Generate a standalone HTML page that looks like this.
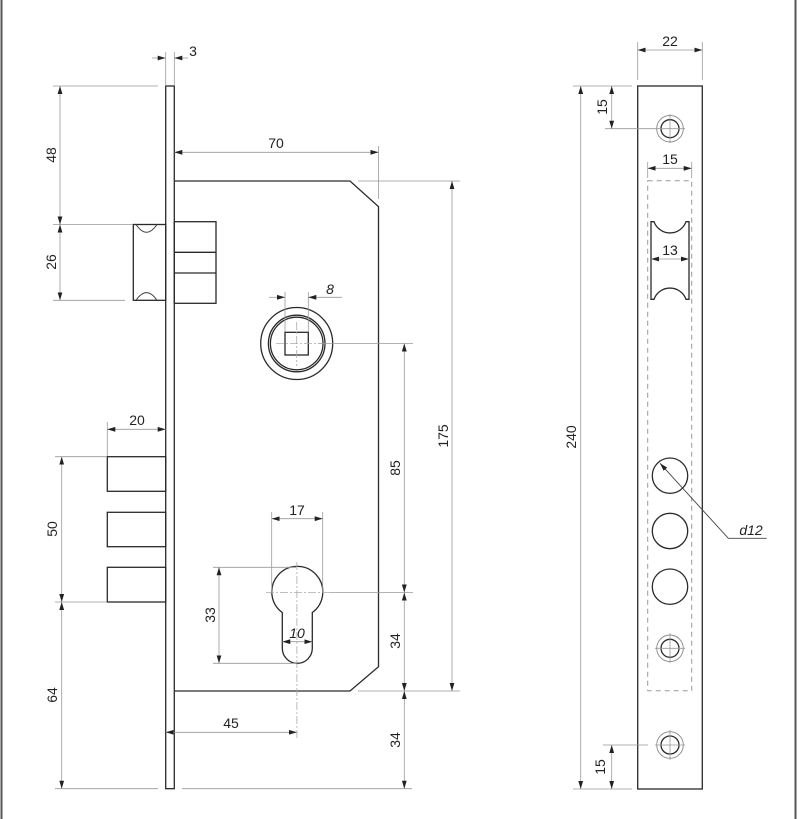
<!DOCTYPE html>
<html><head><meta charset="utf-8"><style>
html,body{margin:0;padding:0;background:#fff}
svg{display:block}
text{font-family:"Liberation Sans",sans-serif;font-size:14px;fill:#222}
.o{stroke:#2a2a2a;stroke-width:1.3;fill:none}
.d{stroke:#999;stroke-width:0.8;fill:none}
.c{stroke:#aaa;stroke-width:0.8;fill:none;stroke-dasharray:8 2 2 2}
</style></head><body>
<svg width="800" height="819" viewBox="0 0 800 819" xmlns="http://www.w3.org/2000/svg">
<defs>
<marker id="a" viewBox="0 0 10 6" refX="10" refY="3" markerWidth="8" markerHeight="5" orient="auto-start-reverse" markerUnits="userSpaceOnUse"><path d="M0,0L10,3L0,6z" fill="#222"/></marker>
</defs>
<line x1="1.5" y1="0" x2="1.5" y2="819" stroke="#555" stroke-width="2"/>
<line x1="795.5" y1="0" x2="795.5" y2="819" stroke="#555" stroke-width="2"/>

<rect x="165.7" y="86" width="8.6" height="702.7" class="o"/>
<path d="M174.3,181 H350 L378.5,206.7 V666.7 L350,691 H174.3" class="o"/>
<rect x="133.3" y="224.5" width="32.4" height="75.8" class="o"/>
<path d="M136,224.5 Q146.5,240 157,224.5 M136,300.3 Q146.5,285 157,300.3" stroke="#444" stroke-width="1" fill="none"/>
<rect x="174.3" y="221.7" width="41.7" height="81.6" class="o"/>
<line x1="174.3" y1="252.3" x2="216" y2="252.3" class="o"/>
<line x1="174.3" y1="273" x2="216" y2="273" class="o"/>
<rect x="107.3" y="456.7" width="58.4" height="34.6" class="o"/>
<rect x="107.3" y="512.3" width="58.4" height="34.4" class="o"/>
<rect x="107.3" y="567.3" width="58.4" height="34.7" class="o"/>
<circle cx="296.7" cy="343.5" r="36" class="o"/>
<circle cx="296.7" cy="343.5" r="28.3" class="o"/>
<circle cx="296.7" cy="343.5" r="26.3" class="o"/>
<rect x="285" y="332.3" width="23.3" height="22.7" class="o"/>
<line x1="296.7" y1="322" x2="296.7" y2="366" class="c"/>
<line x1="276" y1="343.5" x2="318" y2="343.5" class="c"/>
<path d="M282.3,612.5 A25.5,25.5 0 1 1 312.3,612.5 V648.3 A15,15 0 0 1 282.3,648.3 Z" class="o"/>
<line x1="296.9" y1="562" x2="296.9" y2="740" class="c"/>
<line x1="266" y1="592.5" x2="330" y2="592.5" class="c"/>

<g class="d">
<line x1="165.7" y1="52" x2="165.7" y2="86"/><line x1="174.3" y1="52" x2="174.3" y2="86"/>
<line x1="152" y1="58" x2="165.7" y2="58" marker-end="url(#a)"/>
<line x1="188" y1="58" x2="174.3" y2="58" marker-end="url(#a)"/>
<line x1="53" y1="86" x2="158" y2="86"/>
<line x1="53" y1="224.5" x2="133" y2="224.5"/>
<line x1="53" y1="300.3" x2="125" y2="300.3"/>
<line x1="60" y1="86" x2="60" y2="224.5" marker-start="url(#a)" marker-end="url(#a)"/>
<line x1="60" y1="224.5" x2="60" y2="300.3" marker-start="url(#a)" marker-end="url(#a)"/>
<line x1="378.5" y1="146" x2="378.5" y2="199"/>
<line x1="174.3" y1="152.3" x2="378.5" y2="152.3" marker-start="url(#a)" marker-end="url(#a)"/>
<line x1="358" y1="181" x2="460" y2="181"/>
<line x1="452" y1="181" x2="452" y2="691" marker-start="url(#a)" marker-end="url(#a)"/>
<line x1="285" y1="292" x2="285" y2="332"/><line x1="308.3" y1="292" x2="308.3" y2="332"/>
<line x1="269" y1="297.3" x2="285" y2="297.3" marker-end="url(#a)"/>
<line x1="342" y1="297.3" x2="308.3" y2="297.3" marker-end="url(#a)"/>
<line x1="318" y1="343.5" x2="413" y2="343.5"/>
<line x1="404.3" y1="343.5" x2="404.3" y2="592.5" marker-start="url(#a)" marker-end="url(#a)"/>
<line x1="330" y1="592.5" x2="413" y2="592.5"/>
<line x1="404.3" y1="592.5" x2="404.3" y2="691" marker-start="url(#a)" marker-end="url(#a)"/>
<line x1="358" y1="691" x2="460" y2="691"/>
<line x1="404.3" y1="691" x2="404.3" y2="788.7" marker-start="url(#a)" marker-end="url(#a)"/>
<line x1="182" y1="788.7" x2="412" y2="788.7"/>
<line x1="55" y1="788.7" x2="158" y2="788.7"/>
<line x1="107.3" y1="422" x2="107.3" y2="456"/>
<line x1="107.3" y1="429.3" x2="165.7" y2="429.3" marker-start="url(#a)" marker-end="url(#a)"/>
<line x1="55" y1="456.7" x2="107" y2="456.7"/>
<line x1="55" y1="602" x2="107" y2="602"/>
<line x1="61.7" y1="456.7" x2="61.7" y2="602" marker-start="url(#a)" marker-end="url(#a)"/>
<line x1="61.7" y1="602" x2="61.7" y2="788.7" marker-start="url(#a)" marker-end="url(#a)"/>
<line x1="271.7" y1="512" x2="271.7" y2="592"/><line x1="322.7" y1="512" x2="322.7" y2="592"/>
<line x1="271.7" y1="518.7" x2="322.7" y2="518.7" marker-start="url(#a)" marker-end="url(#a)"/>
<line x1="213" y1="567.3" x2="296" y2="567.3"/>
<line x1="213" y1="663.3" x2="296" y2="663.3"/>
<line x1="219" y1="567.3" x2="219" y2="663.3" marker-start="url(#a)" marker-end="url(#a)"/>
<line x1="282.3" y1="641.7" x2="312.3" y2="641.7" marker-start="url(#a)" marker-end="url(#a)"/>
<line x1="165.7" y1="732.3" x2="296.9" y2="732.3" marker-start="url(#a)" marker-end="url(#a)"/>
</g>
<text x="193" y="56" text-anchor="middle">3</text>
<text x="276" y="148" text-anchor="middle">70</text>
<text x="330" y="294" text-anchor="middle" font-style="italic">8</text>
<text x="137" y="425" text-anchor="middle">20</text>
<text x="297" y="515" text-anchor="middle">17</text>
<text x="297" y="638" text-anchor="middle" font-style="italic" font-size="12">10</text>
<text x="231" y="728" text-anchor="middle">45</text>
<text transform="translate(56,155) rotate(-90)" text-anchor="middle">48</text>
<text transform="translate(56,262) rotate(-90)" text-anchor="middle">26</text>
<text transform="translate(57,529) rotate(-90)" text-anchor="middle">50</text>
<text transform="translate(57,695) rotate(-90)" text-anchor="middle">64</text>
<text transform="translate(215,615) rotate(-90)" text-anchor="middle">33</text>
<text transform="translate(400,468) rotate(-90)" text-anchor="middle">85</text>
<text transform="translate(400,641) rotate(-90)" text-anchor="middle">34</text>
<text transform="translate(400,740) rotate(-90)" text-anchor="middle">34</text>
<text transform="translate(448,436) rotate(-90)" text-anchor="middle">175</text>

<rect x="637.7" y="86" width="64.6" height="703" class="o"/>
<rect x="647.7" y="180.7" width="44" height="510" fill="none" stroke="#999" stroke-width="1" stroke-dasharray="5 4"/>
<path d="M651,221.7 H654 A17,17 0 0 0 686,221.7 H689 V299.3 H686 A17,17 0 0 0 654,299.3 H651 Z" class="o"/>
<g>
<circle cx="670" cy="128.7" r="13.3" stroke="#888" stroke-width="0.9" fill="none"/>
<circle cx="670" cy="128.7" r="9" class="o"/>
<circle cx="670" cy="648.3" r="13.3" stroke="#888" stroke-width="0.9" fill="none"/>
<circle cx="670" cy="648.3" r="9" class="o"/>
<circle cx="670" cy="745" r="13.3" stroke="#888" stroke-width="0.9" fill="none"/>
<circle cx="670" cy="745" r="9" class="o"/>
<circle cx="670" cy="475.7" r="17.7" class="o"/>
<circle cx="670" cy="531" r="17.7" class="o"/>
<circle cx="670" cy="586.7" r="17.7" class="o"/>
</g>
<g class="d">
<line x1="670" y1="114" x2="670" y2="143"/><line x1="655" y1="128.7" x2="685" y2="128.7"/>
<line x1="670" y1="633" x2="670" y2="663"/><line x1="655" y1="648.3" x2="685" y2="648.3"/>
<line x1="670" y1="730" x2="670" y2="760"/><line x1="655" y1="745" x2="685" y2="745"/>
<line x1="637.7" y1="42" x2="637.7" y2="80"/><line x1="702.3" y1="42" x2="702.3" y2="80"/>
<line x1="637.7" y1="50" x2="702.3" y2="50" marker-start="url(#a)" marker-end="url(#a)"/>
<line x1="573" y1="86" x2="632" y2="86"/>
<line x1="573" y1="789" x2="632" y2="789"/>
<line x1="580.7" y1="86" x2="580.7" y2="789" marker-start="url(#a)" marker-end="url(#a)"/>
<line x1="605" y1="128.7" x2="655" y2="128.7"/>
<line x1="611.7" y1="86" x2="611.7" y2="128.7" marker-start="url(#a)" marker-end="url(#a)"/>
<line x1="603" y1="745" x2="648" y2="745"/>
<line x1="611.7" y1="745" x2="611.7" y2="789" marker-start="url(#a)" marker-end="url(#a)"/>
<line x1="647.7" y1="162" x2="647.7" y2="178"/><line x1="691.7" y1="162" x2="691.7" y2="178"/>
<line x1="647.7" y1="168.3" x2="691.7" y2="168.3" marker-start="url(#a)" marker-end="url(#a)"/>
<line x1="651" y1="259" x2="689" y2="259" marker-start="url(#a)" marker-end="url(#a)"/>
</g>
<path d="M766.7,538.3 H728.3 L660,463.3" stroke="#444" stroke-width="0.9" fill="none" marker-end="url(#a)"/>
<text x="670" y="46" text-anchor="middle">22</text>
<text x="670" y="164" text-anchor="middle">15</text>
<text x="670" y="255" text-anchor="middle">13</text>
<text x="751" y="535" text-anchor="middle" font-style="italic">d12</text>
<text transform="translate(576,437) rotate(-90)" text-anchor="middle">240</text>
<text transform="translate(607,107) rotate(-90)" text-anchor="middle">15</text>
<text transform="translate(605,767) rotate(-90)" text-anchor="middle">15</text>
</svg>
</body></html>
